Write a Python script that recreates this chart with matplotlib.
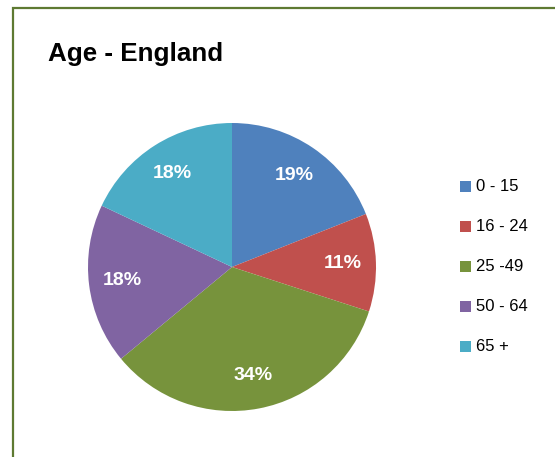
import matplotlib
matplotlib.use("Agg")
import matplotlib.pyplot as plt
from matplotlib.patches import Rectangle
from matplotlib import font_manager

categories = ["0 - 15", "16 - 24", "25 -49", "50 - 64", "65 +"]
values = [19, 11, 34, 18, 18]
colors = ["#4F81BD", "#C0504D", "#77933C", "#8064A2", "#4BACC6"]
title = "Age - England"

names = {f.name for f in font_manager.fontManager.ttflist}
if "Liberation Sans Narrow" in names:
    label_family, label_size = "Liberation Sans Narrow", 17
else:
    label_family, label_size = "Liberation Sans", 14

W, H = 555, 457
fig = plt.figure(figsize=(W / 100, H / 100), dpi=100)
fig.patch.set_facecolor("white")

def fx(px):
    return px / W

def fy(py):
    return 1 - py / H

# border (extends beyond right and bottom)
fig.patches.append(Rectangle((fx(13), fy(500)), fx(600), fy(8) - fy(500),
                             transform=fig.transFigure, fill=False,
                             edgecolor="#5E7A32", linewidth=1.6, zorder=0))

fig.text(fx(48), fy(54), title, fontsize=18.7, fontweight="bold",
         family="Liberation Sans", va="center", ha="left", color="black")

cx, cy, r = 232, 267, 144
ax = fig.add_axes([fx(cx - r), fy(cy + r), fx(2 * r), fy(cy - r) - fy(cy + r)])
wedges, texts, autotexts = ax.pie(
    values, colors=colors, startangle=90, counterclock=False,
    autopct=lambda p: f"{p:.0f}%", pctdistance=0.77, radius=1,
    textprops=dict(color="white", fontsize=label_size, fontweight="bold",
                   family=label_family))
ax.set_xlim(-1, 1)
ax.set_ylim(-1, 1)
ax.set_aspect("equal")
ax.axis("off")

# legend
y0, dy = 186.5, 40
for i, (lab, col) in enumerate(zip(categories, colors)):
    y = y0 + i * dy
    fig.patches.append(Rectangle((fx(460), fy(y + 5.5)), fx(11), fy(y - 5.5) - fy(y + 5.5),
                                 transform=fig.transFigure, facecolor=col,
                                 edgecolor="none"))
    fig.text(fx(476), fy(y), lab, fontsize=12, family="Liberation Sans",
             va="center", ha="left", color="black")

fig.savefig("out.png", dpi=100)
